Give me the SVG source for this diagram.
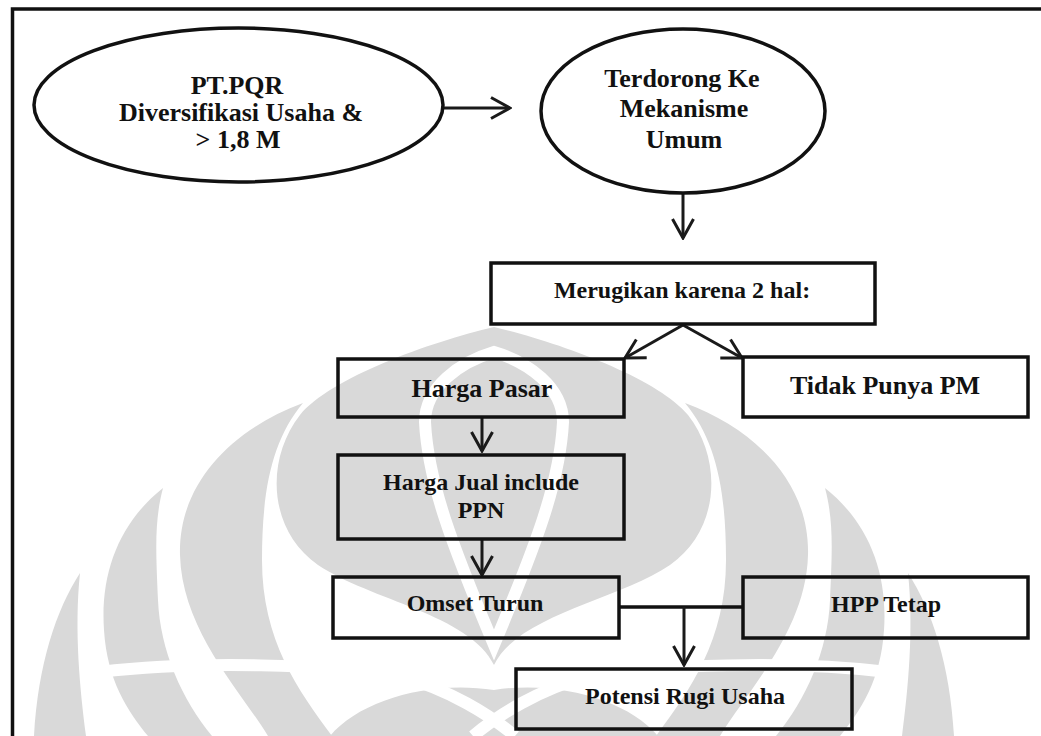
<svg xmlns="http://www.w3.org/2000/svg" xmlns:xlink="http://www.w3.org/1999/xlink" width="1041" height="736" viewBox="0 0 1041 736">
  <style>
    .frame { fill: none; stroke: #111; stroke-width: 3.5; }
    .node { fill: none; stroke: #111; stroke-width: 3.5; }
    .lbl { font-family: "Liberation Serif", "Times New Roman", serif; font-weight: bold; fill: #111; text-anchor: middle; }
    .big { font-size: 26px; }
    .mid { font-size: 24px; }
    .edge { fill: none; stroke: #1a1a1a; stroke-width: 3; }
    .join { fill: none; stroke: #111; stroke-width: 3.5; }
    .wm { fill: #d9d9d9; }
    .wm-gap { fill: none; stroke: #ffffff; stroke-width: 12; }
  </style>
  <defs>
    <marker id="head" viewBox="-22 -12 24 24" refX="0" refY="0" markerWidth="24" markerHeight="24" markerUnits="userSpaceOnUse" orient="auto">
      <path d="M-19,-10.5 L0,0 L-19,10.5" fill="none" stroke="#1a1a1a" stroke-width="3"/>
    </marker>
  </defs>

  <rect width="1041" height="736" fill="#ffffff"/>

  <!-- background emblem -->
  <g id="watermark">
    <g id="wm-left">
      <path class="wm" d="M303,403 C230,430 178,485 180,555 C182,630 240,690 268,736 L332,736 C298,690 262,640 262,560 C262,490 272,440 303,403 Z"/>
      <path class="wm" d="M163,488 C120,522 100,572 104,630 C107,680 128,712 148,736 L212,736 C182,700 160,650 158,600 C156,552 154,522 163,488 Z"/>
      <path class="wm" d="M80,573 C56,610 38,665 34,736 L86,736 C80,690 74,630 80,573 Z"/>
    </g>
    <use xlink:href="#wm-left" transform="translate(988,0) scale(-1,1)"/>
    <path class="wm" d="M494,327 C430,342 330,378 300,415 C265,460 268,530 318,565 C370,600 470,615 494,665 C518,615 618,600 670,565 C720,530 723,460 688,415 C658,378 558,342 494,327 Z"/>
    <path class="wm" d="M330,736 C360,700 430,680 494,690 C558,680 628,700 658,736 Z"/>
    <path class="wm-gap" d="M494,352 C460,362 425,387 425,422 C428,482 452,545 494,645 C536,545 560,482 563,422 C563,387 528,362 494,352 Z"/>
    <path class="wm-gap" d="M100,672 C200,660 330,665 400,676 C450,690 490,715 515,736"/>
    <path class="wm-gap" d="M888,672 C788,660 658,665 588,676 C538,690 498,715 473,736"/>
  </g>

  <!-- page frame -->
  <path class="frame" d="M12.5,736 L12.5,9 L1041,9"/>

  <g id="connectors">
    <path class="edge" d="M443,108 L510,108" marker-end="url(#head)"/>
    <path class="edge" d="M683,193 L683,238" marker-end="url(#head)"/>
    <path class="edge" d="M683,325 L625,358" marker-end="url(#head)"/>
    <path class="edge" d="M683,325 L742,358" marker-end="url(#head)"/>
    <path class="edge" d="M482,417 L482,451" marker-end="url(#head)"/>
    <path class="edge" d="M482,539 L482,575" marker-end="url(#head)"/>
    <path class="join" d="M619,607 L743,607"/>
    <path class="edge" d="M684,607 L684,665" marker-end="url(#head)"/>
  </g>

  <g id="n-ptpqr">
    <ellipse class="node" cx="238.5" cy="105" rx="204.5" ry="77"/>
    <text class="lbl big" x="237" y="94">PT.PQR</text>
    <text class="lbl big" x="241" y="121">Diversifikasi Usaha &amp;</text>
    <text class="lbl big" x="238" y="148">&gt; 1,8 M</text>
  </g>

  <g id="n-terdorong">
    <ellipse class="node" cx="683" cy="111" rx="142" ry="82"/>
    <text class="lbl big" x="682" y="87">Terdorong Ke</text>
    <text class="lbl big" x="684" y="117">Mekanisme</text>
    <text class="lbl big" x="684" y="148">Umum</text>
  </g>

  <g id="n-merugikan">
    <rect class="node" x="491" y="263" width="384" height="61"/>
    <text class="lbl mid" x="682" y="298">Merugikan karena 2 hal:</text>
  </g>

  <g id="n-harga-pasar">
    <rect class="node" x="338" y="359" width="286" height="58"/>
    <text class="lbl big" x="482" y="397">Harga Pasar</text>
  </g>

  <g id="n-tidak-punya">
    <rect class="node" x="743" y="357" width="285" height="60"/>
    <text class="lbl big" x="885" y="394">Tidak Punya PM</text>
  </g>

  <g id="n-harga-jual">
    <rect class="node" x="338" y="455" width="286" height="84"/>
    <text class="lbl mid" x="481" y="490">Harga Jual include</text>
    <text class="lbl mid" x="481" y="518">PPN</text>
  </g>

  <g id="n-omset">
    <rect class="node" x="333" y="577" width="286" height="61"/>
    <text class="lbl mid" x="475" y="611">Omset Turun</text>
  </g>

  <g id="n-hpp">
    <rect class="node" x="743" y="577" width="285" height="61"/>
    <text class="lbl mid" x="886" y="612">HPP Tetap</text>
  </g>

  <g id="n-potensi">
    <rect class="node" x="516" y="669" width="336" height="60"/>
    <text class="lbl mid" x="685" y="704">Potensi Rugi Usaha</text>
  </g>
</svg>
